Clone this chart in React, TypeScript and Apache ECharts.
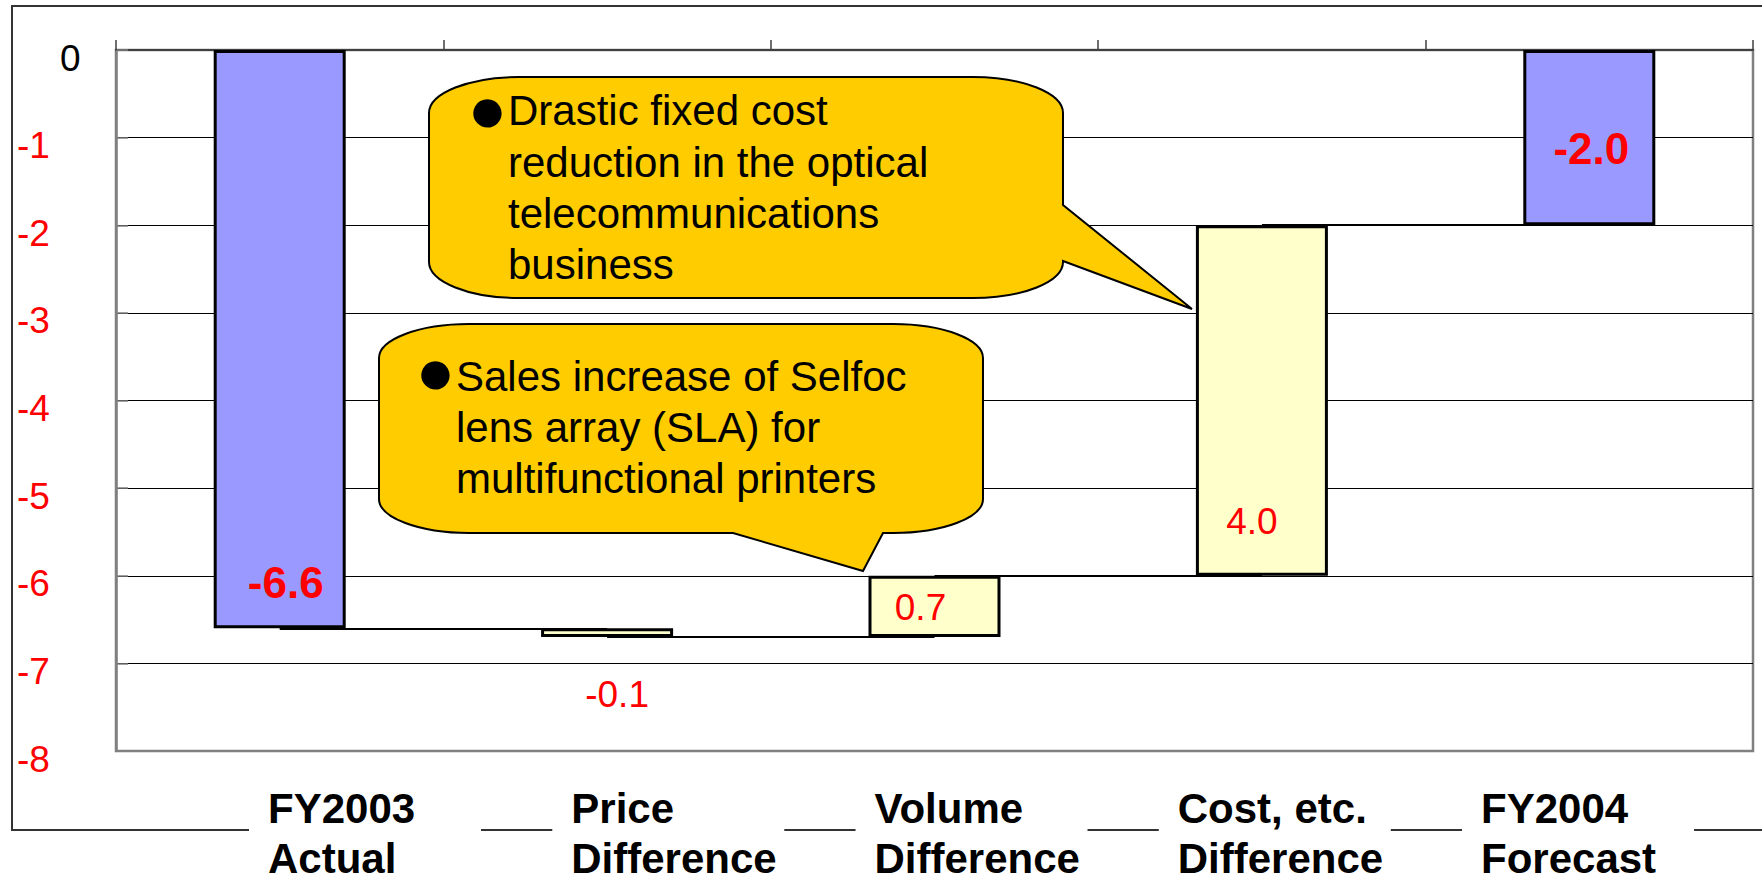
import React, { useEffect, useRef } from "react";
import * as echarts from "echarts";

// ---------- data ----------
const categories = ["FY2003\nActual", "Price\nDifference", "Volume\nDifference", "Cost, etc.\nDifference", "FY2004\nForecast"];
const deltas = [-6.6, -0.1, 0.7, 4.0, -2.0];
const isTotal = [true, false, false, false, true];
const yMin = -8;
const yMax = 0;
const yInterval = 1;
const callout1Lines = ["Drastic fixed cost", "reduction in the optical", "telecommunications", "business"];
const callout2Lines = ["Sales increase of Selfoc", "lens array (SLA) for", "multifunctional printers"];

// ---------- styles ----------
const FONT = '"Liberation Sans", Arial, sans-serif';
const labelOffsets: number[][] = [[6, 243], [10, 62], [-14, 1], [-10, 121], [2, 11]];

function buildCallout(x0: number, y0: number, x1: number, y1: number, rx: number, ry: number, tail: string, tailSide: "right" | "bottom") {
  let d = `M${x0 + rx},${y0} L${x1 - rx},${y0} A${rx},${ry} 0 0 1 ${x1},${y0 + ry} `;
  if (tailSide === "right") d += tail + " ";
  d += `L${x1},${y1 - ry} A${rx},${ry} 0 0 1 ${x1 - rx},${y1} `;
  if (tailSide === "bottom") d += tail + " ";
  d += `L${x0 + rx},${y1} A${rx},${ry} 0 0 1 ${x0},${y1 - ry} L${x0},${y0 + ry} A${rx},${ry} 0 0 1 ${x0 + rx},${y0} Z`;
  return d;
}

let registered = false;
function registerShapes() {
  if (registered) return;
  registered = true;
  const c1 = buildCallout(429, 77, 1063, 298, 90, 36, "L1063,205 L1192,309 L1063,261", "right");
  const c2 = buildCallout(379, 324, 983, 533, 90, 34, "L883,533 L863,571 L733,533", "bottom");
  echarts.graphic.registerShape("calloutA", echarts.graphic.extendPath(c1, {}));
  echarts.graphic.registerShape("calloutB", echarts.graphic.extendPath(c2, {}));
}

export default function App() {
  const ref = useRef<HTMLDivElement>(null);

  useEffect(() => {
    if (!ref.current) return;
    registerShapes();
    const chart = echarts.init(ref.current, undefined, { renderer: "svg" });

    // waterfall computation
    const bases: number[] = [];
    const segs: number[] = [];
    const levels: number[] = [];
    let running = 0;
    deltas.forEach((v, i) => {
      let start: number, end: number;
      if (isTotal[i]) {
        start = 0;
        end = v;
      } else {
        start = running;
        end = running + v;
      }
      running = end;
      levels.push(end);
      const top = Math.max(start, end);
      const bot = Math.min(start, end);
      bases.push(top);
      segs.push(bot - top);
    });

    const connectors = [] as any[];
    for (let i = 0; i < categories.length - 1; i++) {
      connectors.push([{ coord: [i, levels[i]] }, { coord: [i + 1, levels[i]] }]);
    }

    const segData = segs.map((s, i) => ({
      value: s,
      itemStyle: { color: isTotal[i] ? "#9999FF" : "#FFFFCC" },
      label: {
        show: true,
        position: "inside",
        offset: labelOffsets[i],
        formatter: () => deltas[i].toFixed(1),
        color: "#FF0000",
        fontFamily: FONT,
        fontSize: isTotal[i] ? 44 : 37,
        fontWeight: isTotal[i] ? "bold" : "normal",
      },
    }));

    const option: any = {
      animation: false,
      backgroundColor: "#ffffff",
      grid: [
        { left: 116, top: 50, width: 1637, height: 701, show: true, borderColor: "#808080", borderWidth: 2.5, backgroundColor: "transparent", containLabel: false, outerBoundsMode: "none" },
        { left: 97.4, top: 700, width: 1516.25, height: 73, show: false, containLabel: false, outerBoundsMode: "none" },
      ],
      xAxis: [
        {
          type: "category",
          gridIndex: 0,
          position: "top",
          data: categories,
          axisLine: { show: true, lineStyle: { color: "#404040", width: 2 } },
          axisTick: { show: true, inside: false, length: 10, lineStyle: { color: "#404040", width: 1.5 } },
          axisLabel: { show: false },
          splitLine: { show: false },
        },
        {
          type: "category",
          gridIndex: 1,
          position: "bottom",
          data: categories,
          z: 10,
          axisLine: { show: false },
          axisTick: { show: false },
          splitLine: { show: false },
          axisLabel: {
            show: true,
            interval: 0,
            margin: 10,
            align: "left",
            verticalAlign: "top",
            width: 213,
            overflow: "none",
            padding: [0, 0, 0, 19],
            backgroundColor: "#ffffff",
            color: "#000000",
            fontFamily: FONT,
            fontSize: 42,
            fontWeight: "bold",
            lineHeight: 50,
          },
        },
      ],
      yAxis: [
        {
          type: "value",
          gridIndex: 0,
          min: yMin,
          max: yMax,
          interval: yInterval,
          axisLine: { show: true, lineStyle: { color: "#808080", width: 2.5 } },
          axisTick: { show: true, inside: true, length: 12, lineStyle: { color: "#808080", width: 1.5 } },
          splitLine: { show: true, showMinLine: false, showMaxLine: false, lineStyle: { color: "#000000", width: 1.2 } },
          axisLabel: {
            show: true,
            align: "left",
            margin: 99,
            padding: [16, 0, 0, 0],
            formatter: (v: number) => (v === 0 ? "{z|0}" : "{n|" + v + "}"),
            rich: {
              z: { color: "#000000", fontSize: 37, fontFamily: FONT, padding: [0, 0, 0, 43] },
              n: { color: "#FF0000", fontSize: 37, fontFamily: FONT },
            },
          },
        },
        {
          type: "value",
          gridIndex: 1,
          show: false,
          splitLine: { show: false },
        },
      ],
      series: [
        {
          type: "bar",
          name: "base",
          xAxisIndex: 0,
          yAxisIndex: 0,
          stack: "wf",
          stackStrategy: "all",
          barWidth: 132,
          silent: true,
          itemStyle: { color: "transparent", borderWidth: 0 },
          data: bases,
        },
        {
          type: "bar",
          name: "value",
          xAxisIndex: 0,
          yAxisIndex: 0,
          stack: "wf",
          stackStrategy: "all",
          barWidth: 132,
          itemStyle: { borderColor: "#000000", borderWidth: 3 },
          data: segData,
          markLine: {
            silent: true,
            symbol: ["none", "none"],
            label: { show: false },
            lineStyle: { color: "#000000", width: 2, type: "solid" },
            animation: false,
            data: connectors,
          },
        },
      ],
      graphic: [
        {
          type: "rect",
          z: 0,
          silent: true,
          shape: { x: 12, y: 6, width: 1800, height: 824 },
          style: { fill: "none", stroke: "#333333", lineWidth: 2 },
        },
        {
          type: "calloutA",
          z: 50,
          silent: true,
          style: { fill: "#FFCC00", stroke: "#000000", lineWidth: 2 },
        },
        {
          type: "text",
          z: 60,
          silent: true,
          x: 487.5,
          y: 109,
          style: { text: "●", fontSize: 66, fontFamily: FONT, fill: "#000", align: "center", verticalAlign: "middle" },
        },
        {
          type: "text",
          z: 60,
          silent: true,
          x: 508,
          y: 85.3,
          style: { text: callout1Lines.join("\n"), fontSize: 42, fontFamily: FONT, fill: "#000", lineHeight: 51.2, align: "left", verticalAlign: "top" },
        },
        {
          type: "calloutB",
          z: 50,
          silent: true,
          style: { fill: "#FFCC00", stroke: "#000000", lineWidth: 2 },
        },
        {
          type: "text",
          z: 60,
          silent: true,
          x: 435.5,
          y: 371,
          style: { text: "●", fontSize: 66, fontFamily: FONT, fill: "#000", align: "center", verticalAlign: "middle" },
        },
        {
          type: "text",
          z: 60,
          silent: true,
          x: 456,
          y: 351.3,
          style: { text: callout2Lines.join("\n"), fontSize: 42, fontFamily: FONT, fill: "#000", lineHeight: 51, align: "left", verticalAlign: "top" },
        },
      ],
    };

    chart.setOption(option);
    return () => {
      chart.dispose();
    };
  }, []);

  return <div ref={ref} style={{ position: "absolute", left: 0, top: 0, width: 1762, height: 877 }} />;
}
